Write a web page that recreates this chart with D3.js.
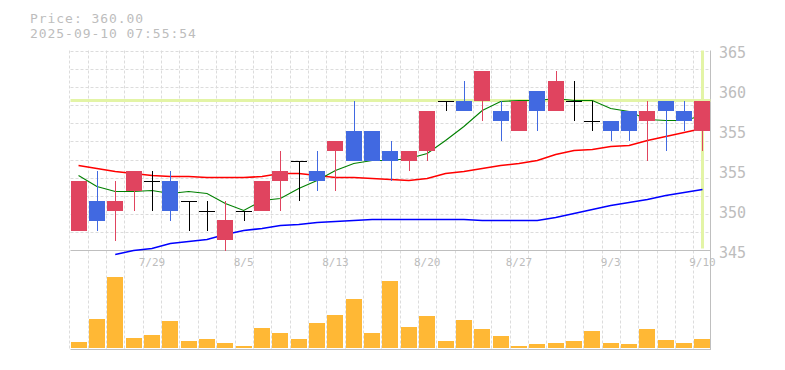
<!DOCTYPE html>
<html>
<head>
<meta charset="utf-8">
<script src="https://cdn.jsdelivr.net/npm/d3@7/dist/d3.min.js"></script>
<style>
  html, body { margin: 0; padding: 0; background: #fff; }
  svg { display: block; }
  text { font-family: "DejaVu Sans Mono", monospace; fill: #bdbdbd; }
</style>
</head>
<body>
<div id="chart"></div>
<script>
// daily data, 7/23 .. 9/10
const dates = ["7/23","7/24","7/25","7/28","7/29","7/30","7/31","8/1","8/4","8/5",
               "8/6","8/7","8/8","8/12","8/13","8/14","8/15","8/18","8/19","8/20",
               "8/21","8/22","8/25","8/26","8/27","8/28","8/29","9/1","9/2","9/3",
               "9/4","9/5","9/8","9/9","9/10"];
const open  = [347,350,349,351,352,352,350,349,346,349,349,352,354,353,355,357,357,355,354,355,
               360,360,360,359,357,361,359,360,358,358,359,358,360,359,357];
const high  = [352,353,352,353,353,353,350,350,350,349,352,355,354,355,356,360,357,356,355,359,
               360,362,363,360,360,361,363,362,360,358,359,360,360,360,360];
const low   = [347,347,346,349,349,348,347,347,345,348,349,349,350,351,351,354,354,352,353,354,
               359,359,358,356,357,357,359,358,357,356,356,354,355,357,355];
const close = [352,348,350,353,352,349,350,349,348,349,352,353,354,352,356,354,354,354,355,359,
               360,359,363,358,360,359,362,360,358,357,357,359,359,358,360];
const ma5   = [352.5,351.4,350.9,350.9,351.0,350.7,350.9,350.7,349.7,349.0,350.0,350.2,351.2,352.0,353.0,
               353.7,354.0,354.0,354.2,354.7,356.0,357.4,359.0,359.9,360.0,360.0,360.2,360.0,360.0,359.2,
               358.9,358.1,358.0,358.0,358.5];
const ma25  = [353.5,353.2,352.9,352.7,352.5,352.4,352.4,352.3,352.3,352.3,352.4,352.7,352.7,352.5,352.3,
               352.3,352.2,352.1,352.0,352.2,352.7,352.9,353.2,353.5,353.7,354.0,354.6,355.0,355.1,355.4,
               355.5,356.0,356.4,356.8,357.2];
const ma75  = [null,null,344.6,345.0,345.2,345.7,345.9,346.1,346.6,347.0,347.2,347.5,347.6,347.8,347.9,
               348.0,348.1,348.1,348.1,348.1,348.1,348.1,348.0,348.0,348.0,348.0,348.3,348.7,349.1,349.5,
               349.8,350.1,350.5,350.8,351.1];
const volume = [6000,29000,71000,10000,13000,27000,7000,9000,5000,2000,20000,15000,9000,25000,33000,
                49000,15000,67000,21000,32000,7000,28000,19000,12000,2000,4000,5000,7000,17000,5000,
                4000,19000,8000,5000,9000];
const yTickValues = [365,361,357,353,349,345];
const yTickLabels = ["365","360","355","355","350","345"];
const xTickDates = ["7/29","8/5","8/13","8/20","8/27","9/3","9/10"];
const lastPrice = 360.00;
const stamp = "2025-09-10 07:55:54";

const W = 785, H = 370;
const pLeft = 70.5, pRight = 710.5, pTop = 50.5, pBottom = 250.5;
const volTop = 268, volBottom = 348;

const svg = d3.select("#chart").append("svg").attr("width", W).attr("height", H);

const x = d3.scaleBand().domain(dates).range([pLeft, pRight]).paddingInner(0.125);
const y = d3.scaleLinear().domain([345, 365]).range([pBottom, pTop]);
const yv = d3.scaleLinear().domain([0, 80000]).range([volBottom, volTop]);
const cx = d => Math.round(x(d) + x.bandwidth() / 2) + 0.5;
const edge = d => x(d) - x.step() * x.paddingInner() / 2;

// grid
const grid = svg.append("g").attr("stroke", "#dcdcdc").attr("stroke-dasharray", "3,2");
grid.selectAll(".vg").data(dates).enter().append("line")
  .attr("x1", d => Math.round(edge(d)) + 0.5).attr("x2", d => Math.round(edge(d)) + 0.5)
  .attr("y1", pTop).attr("y2", volBottom + 1);
grid.selectAll(".hg").data(d3.range(0, 11)).enter().append("line")
  .attr("x1", pLeft).attr("x2", pRight)
  .attr("y1", i => Math.round(pTop + i * (pBottom - pTop) / 11) + 0.5)
  .attr("y2", i => Math.round(pTop + i * (pBottom - pTop) / 11) + 0.5);

// frame
const frame = svg.append("g").attr("stroke", "#bfbfbf").attr("stroke-width", 1);
frame.append("line").attr("x1", pLeft).attr("x2", pRight).attr("y1", pBottom).attr("y2", pBottom);
frame.append("line").attr("x1", pLeft).attr("x2", pRight).attr("y1", volBottom + 1.5).attr("y2", volBottom + 1.5);
frame.append("line").attr("x1", pRight).attr("x2", pRight).attr("y1", pTop).attr("y2", volBottom + 2);

// current price cross
const last = dates[dates.length - 1];
svg.append("line").attr("x1", pLeft).attr("x2", pRight)
  .attr("y1", y(lastPrice)).attr("y2", y(lastPrice))
  .attr("stroke", "#e3f4a6").attr("stroke-width", 3);
svg.append("line").attr("x1", cx(last)).attr("x2", cx(last))
  .attr("y1", pTop).attr("y2", pBottom - 2)
  .attr("stroke", "#e3f4a6").attr("stroke-width", 3);

// moving averages
function maLine(vals, color, w) {
  const line = d3.line()
    .defined(d => d.v != null)
    .x(d => x(d.date) + x.bandwidth() / 2)
    .y(d => y(d.v));
  svg.append("path")
    .datum(dates.map((d, i) => ({ date: d, v: vals[i] })))
    .attr("fill", "none").attr("stroke", color).attr("stroke-width", w)
    .attr("d", line);
}
maLine(ma75, "#0000ff", 1.6);
maLine(ma25, "#ff0000", 1.6);
maLine(ma5, "#008000", 1.1);

// candles
const candles = dates.map((d, i) => ({ date: d, o: open[i], h: high[i], l: low[i], c: close[i] }));
const col = d => d.c > d.o ? "#e0445f" : d.c < d.o ? "#4169e1" : "#000000";
const cg = svg.append("g").attr("shape-rendering", "crispEdges");
cg.selectAll(".wick").data(candles).enter().append("line")
  .attr("x1", d => cx(d.date)).attr("x2", d => cx(d.date))
  .attr("y1", d => y(d.h)).attr("y2", d => y(d.l))
  .attr("stroke", col).attr("stroke-width", 1);
cg.selectAll(".body").data(candles.filter(d => d.o !== d.c)).enter().append("rect")
  .attr("x", d => Math.round(x(d.date)))
  .attr("width", Math.round(x.bandwidth()))
  .attr("y", d => Math.round(y(Math.max(d.o, d.c))))
  .attr("height", d => Math.round(Math.abs(y(d.o) - y(d.c))))
  .attr("fill", col);
cg.selectAll(".doji").data(candles.filter(d => d.o === d.c)).enter().append("line")
  .attr("x1", d => Math.round(x(d.date))).attr("x2", d => Math.round(x(d.date)) + Math.round(x.bandwidth()))
  .attr("y1", d => Math.round(y(d.c)) + 0.5).attr("y2", d => Math.round(y(d.c)) + 0.5)
  .attr("stroke", "#000").attr("stroke-width", 1);

// volume
svg.append("g").attr("shape-rendering", "crispEdges")
  .selectAll("rect").data(dates).enter().append("rect")
  .attr("x", d => Math.round(x(d)))
  .attr("width", Math.round(x.bandwidth()))
  .attr("y", (d, i) => yv(volume[i]))
  .attr("height", (d, i) => volBottom - yv(volume[i]))
  .attr("fill", "#ffb835");

// y labels
svg.append("g").selectAll("text").data(yTickValues).enter().append("text")
  .attr("x", 719).attr("y", v => y(v) + 7.5)
  .attr("font-size", "15px")
  .text((v, i) => yTickLabels[i]);

// date labels
svg.append("g").selectAll("text").data(xTickDates).enter().append("text")
  .attr("x", d => x(d) + x.bandwidth() / 2).attr("y", 266)
  .attr("text-anchor", "middle")
  .attr("font-size", "11px")
  .text(d => d);

// header (smaller font + letter spacing so the two lines don't collide)
const header = svg.append("g").attr("font-size", "13px").attr("letter-spacing", "0.95px");
header.append("text").attr("x", 30).attr("y", 22.5)
  .text("Price: " + lastPrice.toFixed(2));
header.append("text").attr("x", 30).attr("y", 38)
  .text(stamp);
</script>
</body>
</html>
